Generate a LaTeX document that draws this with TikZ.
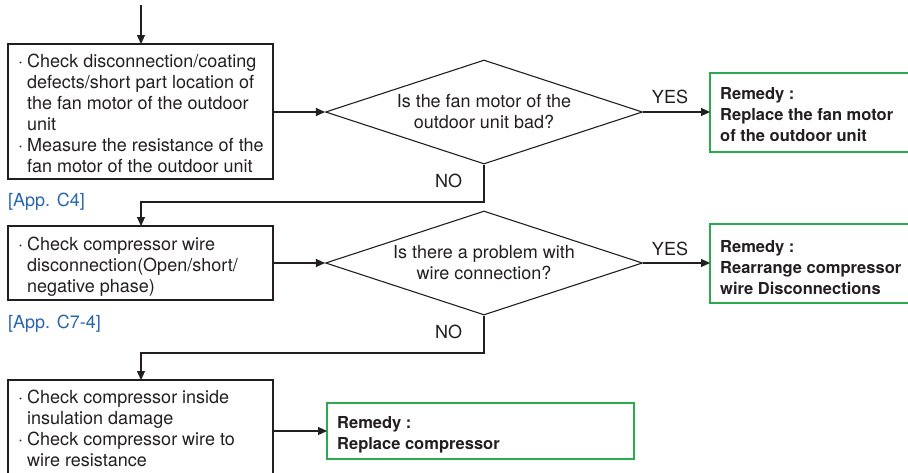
\documentclass[tikz,border=0pt]{standalone}
\usepackage{fontspec}
\setmainfont{TeX Gyre Heros}
\usetikzlibrary{arrows.meta,shapes.geometric}
\definecolor{txt}{HTML}{231F20}
\definecolor{appblue}{HTML}{2A66B0}
\definecolor{remgreen}{HTML}{2DAA4F}
\newcommand{\bul}{\makebox[9pt][l]{·}}
\newcommand{\ind}{\hspace*{9pt}}
\begin{document}
\begin{tikzpicture}[x=1pt,y=-1pt,
  font=\fontsize{18}{21}\selectfont, text=txt,
  line/.style={draw=txt, line width=1.1pt},
  arr/.style={line, -{Triangle[length=9pt,width=8pt]}},
  decision/.style={draw=txt, line width=1.1pt, diamond, aspect=3.05, inner sep=0pt, minimum width=317pt, minimum height=104pt, align=center},
  remtext/.style={anchor=north west, align=left, inner sep=0pt, font=\fontsize{16.5}{21}\selectfont\bfseries},
  chktext/.style={anchor=north west, align=left, inner sep=0pt},
  applabel/.style={text=appblue, anchor=west, inner sep=0pt},
  yn/.style={inner sep=0pt}]
\useasboundingbox (0,0) rectangle (908,472);
\clip (0,0) rectangle (908,472);

% boxes drawn by corners
\draw[line] (8,44) rectangle (273,179);
\node[chktext] (t1) at (18,54)
 {\bul Check disconnection/coating\\
  \ind defects/short part location of\\
  \ind the fan motor of the outdoor\\
  \ind unit\\
  \bul Measure the resistance of the\\
  \ind fan motor of the outdoor unit};
\coordinate (b1top) at (141,44);
\coordinate (b1right) at (273,112);
\coordinate (start) at (141,5);

\draw[line] (8,226) rectangle (273,300);
\node[chktext] (t2) at (18,236.5)
 {\bul Check compressor wire\\
  \ind disconnection(Open/short/\\
  \ind negative phase)};
\coordinate (b2top) at (141,226);
\coordinate (b2right) at (273,263);

\draw[line] (8,380) rectangle (273,490);
\node[chktext] (t3) at (18,390)
 {\bul Check compressor inside\\
  \ind insulation damage\\
  \bul Check compressor wire to\\
  \ind wire resistance};
\coordinate (b3top) at (141,380);
\coordinate (b3right) at (273,431);

% decisions
\node[decision] (d1) at (484,112) {Is the fan motor of the\\outdoor unit bad?};
\node[decision] (d2) at (484,263) {Is there a problem with\\wire connection?};

% remedies
\draw[remgreen, line width=2.2pt] (710,73) rectangle (920,152);
\node[remtext] (r1t) at (720,87)
 {Remedy :\\Replace the fan motor\\of the outdoor unit};
\coordinate (r1left) at (710,112);

\draw[remgreen, line width=2.2pt] (710,224) rectangle (920,303);
\node[remtext] (r2t) at (720,240)
 {Remedy :\\Rearrange compressor\\wire Disconnections};
\coordinate (r2left) at (710,263);

\draw[remgreen, line width=2.2pt] (327,403) rectangle (634,459);
\node[remtext] (r3t) at (337,416)
 {Remedy :\\Replace compressor};
\coordinate (r3left) at (327,431);

% labels
\node[applabel] (a1) at (8,202) {[App. C4]};
\node[applabel] (a2) at (8,324) {[App. C7-4]};
\node[yn] (y1) at (670,96.5) {YES};
\node[yn] (y2) at (670,249) {YES};
\node[yn] (n1) at (448.5,180.5) {NO};
\node[yn] (n2) at (448.5,331.5) {NO};

% connectors
\draw[arr] (start) -- (b1top);
\draw[arr] (b1right) -- (d1.west);
\draw[arr] (d1.east) -- (r1left);
\draw[arr] (d1.south) -- (484,202) -| (b2top);
\draw[arr] (b2right) -- (d2.west);
\draw[arr] (d2.east) -- (r2left);
\draw[arr] (d2.south) -- (484,353) -| (b3top);
\draw[arr] (b3right) -- (r3left);
\end{tikzpicture}
\end{document}
